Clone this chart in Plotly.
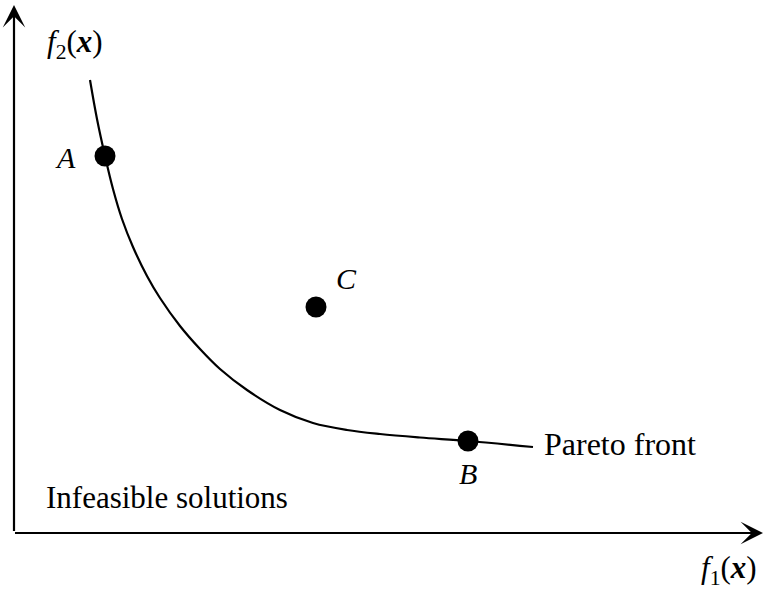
import plotly.graph_objects as go

# Pareto front curve (f1, f2) in chart units
front_f1 = [76, 83, 91, 99, 108, 119, 133, 146, 166, 186, 206, 233, 266, 299, 333, 366, 406, 454, 519]
front_f2 = [453, 414, 377, 344, 314, 286, 257, 235, 207, 184, 164, 143, 123, 110, 103, 99, 95.5, 92, 86]

# Labelled solutions
point_names = ["A", "C", "B"]
point_f1 = [91, 302, 454]
point_f2 = [377, 226, 92]

# Label offsets (in chart units) for each solution's name
label_dx = [-40, 30, 0]
label_dy = [-1, 29, -32]

FONT = "Liberation Serif"

fig = go.Figure()

fig.add_trace(go.Scatter(
    x=front_f1, y=front_f2, mode="lines",
    line=dict(color="black", width=2.2, shape="spline", smoothing=1.0),
    hoverinfo="skip", showlegend=False,
))

fig.add_trace(go.Scatter(
    x=point_f1, y=point_f2, mode="markers",
    marker=dict(color="black", size=21),
    hoverinfo="skip", showlegend=False,
))

annotations = []
for n, x, y, dx, dy in zip(point_names, point_f1, point_f2, label_dx, label_dy):
    annotations.append(dict(
        x=x + dx, y=y + dy, xref="x", yref="y", text=f"<i>{n}</i>",
        showarrow=False, font=dict(family=FONT, size=30, color="black"),
        xanchor="center", yanchor="middle",
    ))

# Axes with arrowheads
annotations.append(dict(
    x=0, y=528, ax=0, ay=-1, xref="x", yref="y", axref="x", ayref="y",
    text=" ", showarrow=True, arrowhead=3, arrowsize=1.7, arrowwidth=2.2,
    arrowcolor="black", standoff=0, font=dict(size=2),
))
annotations.append(dict(
    x=749, y=0, ax=-1, ay=0, xref="x", yref="y", axref="x", ayref="y",
    text=" ", showarrow=True, arrowhead=3, arrowsize=1.7, arrowwidth=2.2,
    arrowcolor="black", standoff=0, font=dict(size=2),
))

annotations.append(dict(
    x=front_f1[-1] + 9, y=front_f2[-1] + 3, xref="x", yref="y",
    text="Pareto front", showarrow=False,
    font=dict(family=FONT, size=32, color="black"),
    xanchor="left", yanchor="middle",
))
annotations.append(dict(
    x=30, y=36, xref="x", yref="y",
    text="Infeasible solutions", showarrow=False,
    font=dict(family=FONT, size=31, color="black"),
    xanchor="left", yanchor="middle",
))
annotations.append(dict(
    x=61, y=489, xref="x", yref="y",
    text="<i>f</i><sub>2</sub>(<b><i>x</i></b>)", showarrow=False,
    font=dict(family=FONT, size=31, color="black"),
    xanchor="center", yanchor="middle",
))
annotations.append(dict(
    x=715, y=-37, xref="x", yref="y",
    text="<i>f</i><sub>1</sub>(<b><i>x</i></b>)", showarrow=False,
    font=dict(family=FONT, size=31, color="black"),
    xanchor="center", yanchor="middle",
))

fig.update_layout(
    width=764, height=590,
    margin=dict(l=0, r=0, t=0, b=0),
    paper_bgcolor="white", plot_bgcolor="white",
    xaxis=dict(range=[-14, 750], visible=False, fixedrange=True),
    yaxis=dict(range=[-57, 533], visible=False, fixedrange=True),
    annotations=annotations,
    showlegend=False,
)

fig.write_html(
    "out.html",
    config={"displayModeBar": False},
    post_script="document.body.style.margin='0';document.body.style.overflow='hidden';",
)
